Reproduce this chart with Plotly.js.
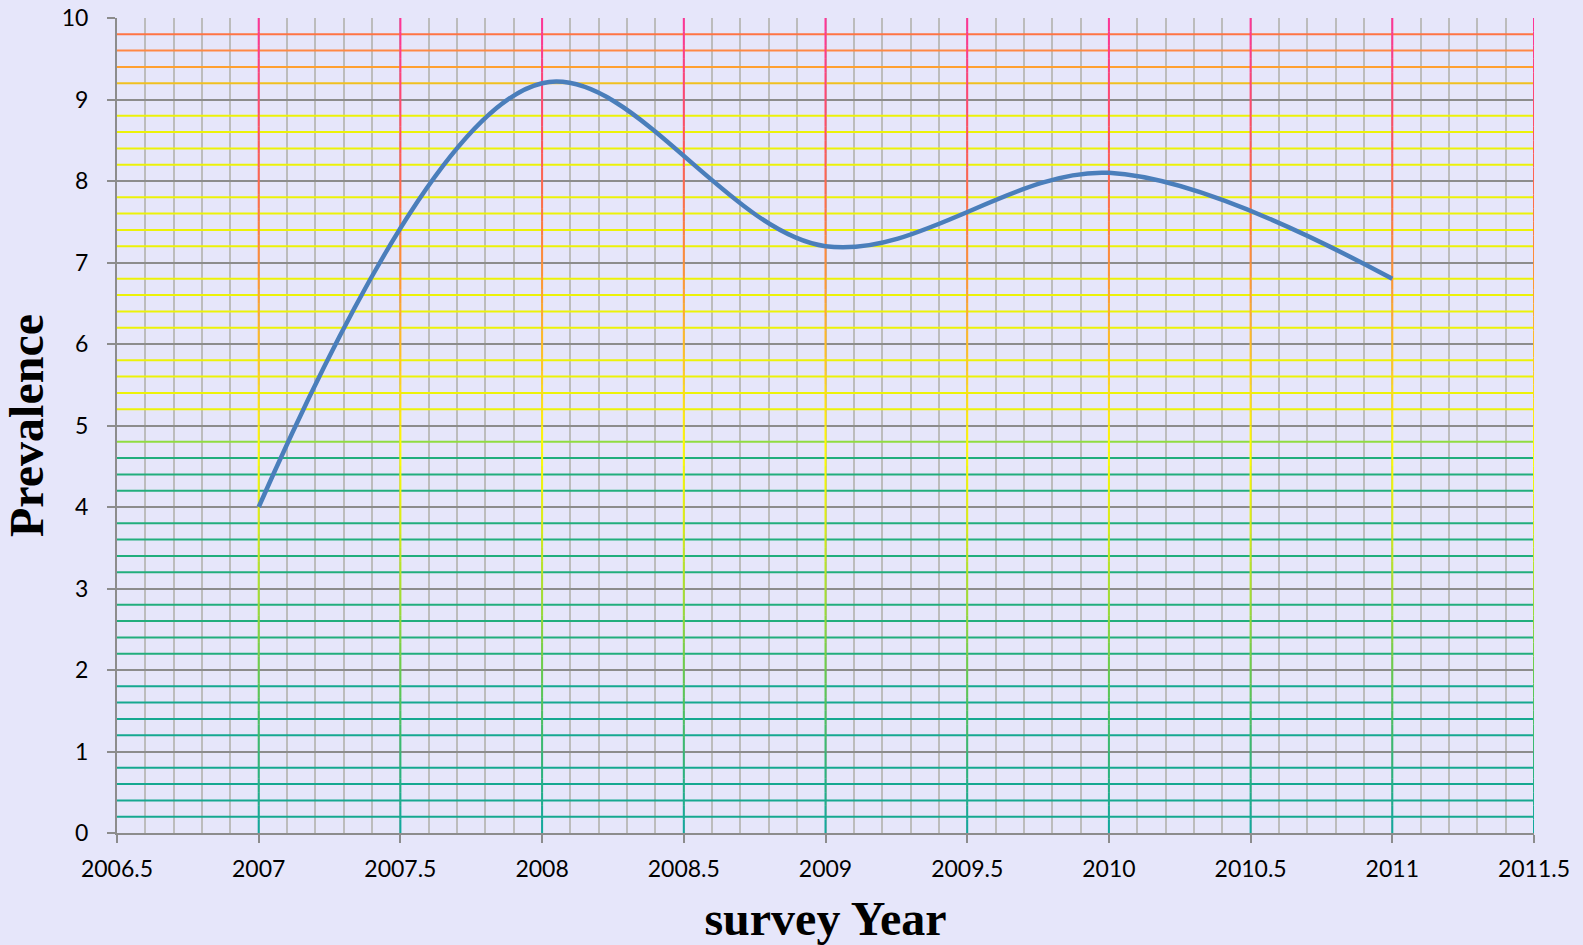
<!DOCTYPE html>
<html>
<head>
<meta charset="utf-8">
<script src="https://cdn.plot.ly/plotly-3.0.1.min.js"></script>
<style>
  html, body { margin: 0; padding: 0; background: #e6e6fa; }
  #chart { width: 1583px; height: 945px; }
</style>
</head>
<body>
<div id="chart"></div>
<script>
// ---- data ----
const surveyYears = [2007, 2008, 2009, 2010, 2011];
const prevalence = [4.0, 9.2, 7.2, 8.1, 6.8];
const xTickValues = [2006.5, 2007, 2007.5, 2008, 2008.5, 2009, 2009.5, 2010, 2010.5, 2011, 2011.5];
const yTickValues = [0, 1, 2, 3, 4, 5, 6, 7, 8, 9, 10];

// ---- style helpers ----
const X_RANGE = [2006.5, 2011.5];
const Y_RANGE = [0, 10];

function hexToRgb(h) {
  h = h.replace('#', '');
  return [parseInt(h.slice(0, 2), 16), parseInt(h.slice(2, 4), 16), parseInt(h.slice(4, 6), 16)];
}
function interpColor(stops, v) {
  if (v <= stops[0][0]) return stops[0][1];
  for (let i = 1; i < stops.length; i++) {
    if (v <= stops[i][0]) {
      const t = (v - stops[i - 1][0]) / (stops[i][0] - stops[i - 1][0]);
      const a = hexToRgb(stops[i - 1][1]), b = hexToRgb(stops[i][1]);
      const c = a.map((x, k) => Math.round(x + (b[k] - x) * t));
      return 'rgb(' + c.join(',') + ')';
    }
  }
  return stops[stops.length - 1][1];
}
// colour of the major vertical grid lines along their height
const verticalStops = [
  [0, '#10a8a0'], [0.8, '#2cb47c'], [1.8, '#5cc854'], [3, '#a8e030'], [4, '#e4f010'],
  [4.7, '#ffff00'], [5.6, '#ffd020'], [6.6, '#ffa030'], [7.6, '#ff7444'],
  [8.6, '#ff5060'], [10, '#ff3399']
];
// colour of the minor horizontal grid lines by height
function horizColor(y) {
  if (y < 2) return '#16a890';
  if (y < 4.7) return '#22ae7c';
  if (y < 5) return '#90dc40';
  if (y < 9) return '#ecf208';
  if (y < 9.3) return '#f0c020';
  if (y < 9.5) return '#ffa030';
  if (y < 9.7) return '#ff8844';
  return '#ff7444';
}

const shapes = [];
// minor horizontal coloured lines every 0.2 (non-integer)
for (let k = 1; k < 50; k++) {
  if (k % 5 === 0) continue;
  const y = k * 0.2;
  shapes.push({
    type: 'line', xref: 'x', yref: 'y', layer: 'between',
    x0: X_RANGE[0], x1: X_RANGE[1], y0: y, y1: y,
    line: { color: horizColor(y), width: 2 }
  });
}
// major vertical gradient lines every 0.5
const NSEG = 60;
for (let k = 1; k <= 10; k++) {
  const x = X_RANGE[0] + k * 0.5;
  for (let s = 0; s < NSEG; s++) {
    const y0 = Y_RANGE[0] + (Y_RANGE[1] - Y_RANGE[0]) * s / NSEG;
    const y1 = Y_RANGE[0] + (Y_RANGE[1] - Y_RANGE[0]) * (s + 1) / NSEG;
    shapes.push({
      type: 'line', xref: 'x', yref: 'y', layer: 'between',
      x0: x, x1: x, y0: y0, y1: y1,
      line: { color: interpColor(verticalStops, (y0 + y1) / 2), width: 2 }
    });
  }
}

const trace = {
  x: surveyYears,
  y: prevalence,
  type: 'scatter',
  mode: 'lines',
  line: { color: '#4a7ebb', width: 4.5, shape: 'spline', smoothing: 1 },
  hoverinfo: 'x+y'
};

const tickFont = { family: 'Lato, "Open Sans", sans-serif', size: 23, color: '#000' };
const titleFont = { family: '"Liberation Serif", "Times New Roman", serif', size: 48, color: '#000', weight: 'bold' };

const layout = {
  width: 1583, height: 945,
  paper_bgcolor: '#e6e6fa',
  plot_bgcolor: '#e6e6fa',
  margin: { l: 117, r: 49, t: 18, b: 112 },
  showlegend: false,
  shapes: shapes,
  xaxis: {
    range: X_RANGE,
    tickvals: xTickValues,
    ticktext: xTickValues.map(v => String(v)),
    showgrid: false,
    zeroline: false,
    showline: true, linecolor: '#8c8c8c', linewidth: 2,
    ticks: 'outside', ticklen: 8, tickwidth: 2, tickcolor: '#8c8c8c',
    ticklabelstandoff: 6,
    tickfont: tickFont,
    minor: { dtick: 0.1, tick0: 2006.5, showgrid: true, gridcolor: '#bcbcbc', gridwidth: 2, ticks: '' },
    title: { text: 'survey Year', font: titleFont, standoff: 25 }
  },
  yaxis: {
    range: Y_RANGE,
    tickvals: yTickValues,
    showgrid: true, gridcolor: '#8c8c8c', gridwidth: 2,
    zeroline: false,
    showline: true, linecolor: '#8c8c8c', linewidth: 2,
    ticks: 'outside', ticklen: 8, tickwidth: 2, tickcolor: '#8c8c8c',
    ticklabelstandoff: 14,
    tickfont: tickFont,
    title: { text: 'Prevalence', font: titleFont, standoff: 12 }
  }
};

Plotly.newPlot('chart', [trace], layout, { displayModeBar: false, staticPlot: true });
</script>
</body>
</html>
